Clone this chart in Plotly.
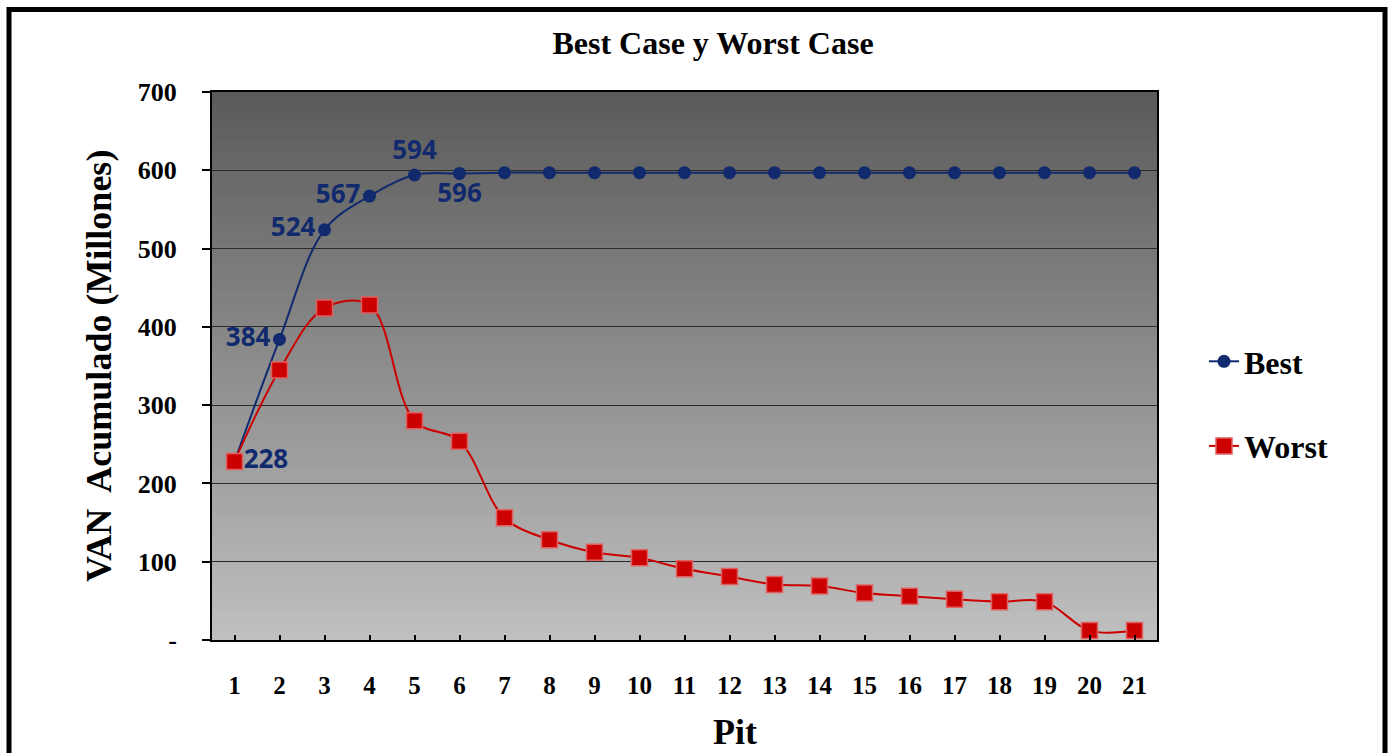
import plotly.graph_objects as go

# Cumulative NPV per pit (millions)
pits = list(range(1, 22))
best = [228, 384, 524, 567, 594, 596, 597, 597, 597, 597, 597,
        597, 597, 597, 597, 597, 597, 597, 597, 597, 597]
worst = [228, 345, 424, 428, 280, 254, 156, 128, 112, 105, 91,
         81, 71, 69, 60, 56, 52, 49, 49, 12, 12]

# Only the first six "Best" points carry a value label
best_label_count = 6
best_label_pos = ["middle right", "middle left", "middle left",
                  "middle left", "top center", "bottom center"]

y_tickvals = [0, 100, 200, 300, 400, 500, 600, 700]
y_ticktext = ["-"] + [str(v) for v in y_tickvals[1:]]

NAVY = "#112a6e"
RED = "#cc0000"
SERIF = "Liberation Serif"

best_text = [f"{v:.0f}" if i < best_label_count else "" for i, v in enumerate(best)]
best_pos = best_label_pos + ["top center"] * (len(best) - best_label_count)

fig = go.Figure()

fig.add_trace(go.Scatter(
    x=pits, y=best, name="Best", mode="lines+markers+text",
    line=dict(color=NAVY, width=2, shape="spline", smoothing=1.0),
    marker=dict(symbol="circle", size=13, color=NAVY),
    text=best_text, textposition=best_pos,
    textfont=dict(family="Open Sans", size=26, color=NAVY, weight="bold"),
    legendgroup="best", cliponaxis=False,
))

fig.add_trace(go.Scatter(
    x=pits, y=worst, name="Worst", mode="lines+markers",
    line=dict(color=RED, width=2, shape="spline", smoothing=1.0),
    marker=dict(symbol="square", size=16, color=RED,
                line=dict(color="#e06060", width=1.5)),
    legendgroup="worst", cliponaxis=False,
))

# Vertical grey gradient behind the plot area (dark at top, light at bottom)
shapes = []
n_strips = 80
top_rgb, bot_rgb = 90, 192
for i in range(n_strips):
    f0 = i / n_strips
    f1 = (i + 1) / n_strips
    t = (i + 0.5) / n_strips
    g = round(bot_rgb + (top_rgb - bot_rgb) * t)
    shapes.append(dict(
        type="rect", xref="x domain", yref="y domain",
        x0=0, x1=1, y0=f0, y1=f1 + 0.002,
        fillcolor=f"rgb({g},{g},{g})", line=dict(width=0), layer="below",
    ))

# Outer black frame around the whole chart
W, H = 1390, 753
ml, mr, mt, mb = 212, 233, 92, 113
pw, ph = W - ml - mr, H - mt - mb


def px_x(px):
    return (px - ml) / pw


def px_y(py):
    return (H - mb - py) / ph


shapes.append(dict(
    type="rect", xref="paper", yref="paper",
    x0=px_x(9), x1=px_x(1385), y0=px_y(775), y1=px_y(9.5),
    line=dict(color="black", width=5), fillcolor="rgba(0,0,0,0)", layer="above",
))

annotations = [
    dict(text="VAN  Acumulado (Millones)", textangle=-90,
         xref="paper", yref="paper", x=px_x(99), y=px_y(366),
         xanchor="center", yanchor="middle", showarrow=False,
         font=dict(family=SERIF, size=36, color="black", weight="bold")),
    dict(text="Pit", xref="paper", yref="paper", x=px_x(735), y=px_y(732),
         xanchor="center", yanchor="middle", showarrow=False,
         font=dict(family=SERIF, size=36, color="black", weight="bold")),
]

fig.update_layout(
    width=W, height=H,
    margin=dict(l=ml, r=mr, t=mt, b=mb),
    paper_bgcolor="white",
    plot_bgcolor="rgba(0,0,0,0)",
    title=dict(text="Best Case y Worst Case", xref="container", yref="container",
               x=713 / W, y=1 - 43 / H, xanchor="center", yanchor="middle",
               font=dict(family=SERIF, size=32, color="black", weight="bold")),
    shapes=shapes,
    annotations=annotations,
    showlegend=True,
    legend=dict(x=px_x(1204), y=px_y(404), xanchor="left", yanchor="middle",
                font=dict(family=SERIF, size=32, color="black", weight="bold"),
                bgcolor="rgba(0,0,0,0)", tracegroupgap=40, itemwidth=30),
)

fig.update_xaxes(
    range=[0.5, 21.5], tickmode="array", tickvals=pits,
    ticktext=[str(p) for p in pits],
    ticks="inside", ticklen=5, tickcolor="black", tickwidth=1.5,
    tickfont=dict(family=SERIF, size=25, color="black", weight="bold"),
    ticklabelstandoff=22,
    showgrid=False, zeroline=False,
    showline=True, linecolor="black", linewidth=2, mirror=True,
)

fig.update_yaxes(
    range=[0, 700], tickmode="array", tickvals=y_tickvals, ticktext=y_ticktext,
    ticks="outside", ticklen=8, tickcolor="black", tickwidth=1.5,
    tickfont=dict(family=SERIF, size=26, color="black", weight="bold"),
    ticklabelstandoff=20,
    showgrid=True, gridcolor="#2a2a2a", gridwidth=1.3, zeroline=False,
    showline=True, linecolor="black", linewidth=2, mirror=True,
)

fig.write_html("out.html")
